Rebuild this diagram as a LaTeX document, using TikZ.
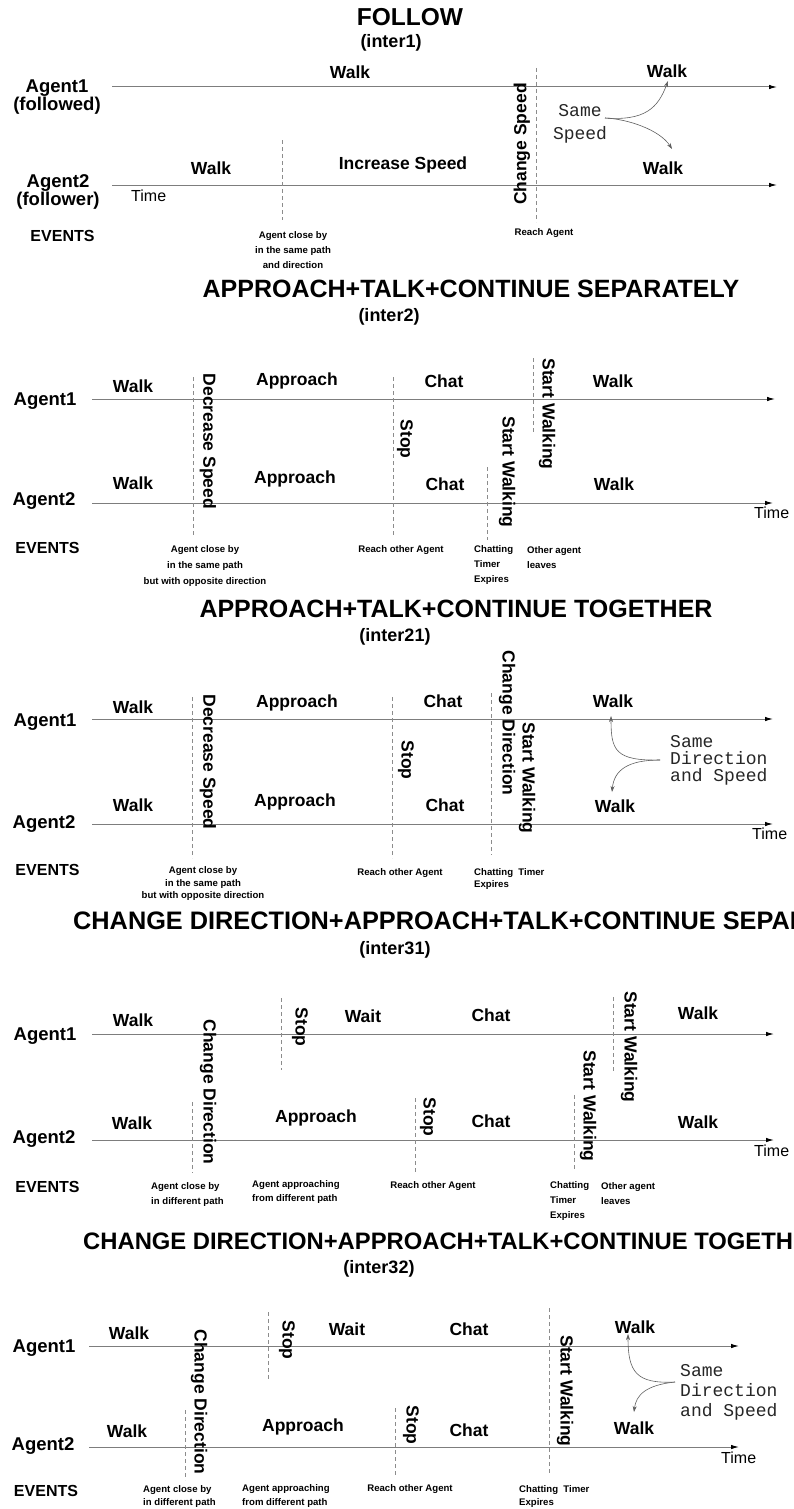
\documentclass[tikz,border=0pt]{standalone}
\usepackage{fontspec}
\setmainfont{Liberation Sans}
\newfontfamily\notefont{Liberation Mono}
\usetikzlibrary{positioning, arrows.meta}

\definecolor{axisc}{RGB}{125, 125, 125}
\definecolor{markc}{RGB}{140, 140, 140}
\definecolor{curvec}{RGB}{95, 95, 95}

\begin{document}
\begin{tikzpicture}[
    x=1pt, y=-1pt,
    lbl/.style={font=\fontsize{17.5}{20}\selectfont\bfseries, inner sep=0pt},
    vlbl/.style={lbl, rotate=-90},
    ttl/.style={font=\fontsize{25}{28}\selectfont\bfseries, inner sep=0pt},
    subttl/.style={font=\fontsize{18}{20}\selectfont\bfseries, inner sep=0pt},
    agent/.style={font=\fontsize{18.5}{18}\selectfont\bfseries, align=center, inner sep=0pt},
    evhdr/.style={font=\fontsize{16}{18}\selectfont\bfseries, inner sep=0pt},
    evt/.style={font=\fontsize{9.6}{15}\selectfont\bfseries, inner sep=0pt},
    timelbl/.style={font=\fontsize{16}{18}\selectfont, inner sep=0pt, anchor=west},
    note/.style={font=\notefont\fontsize{18}{17}\selectfont, text=black!85, inner sep=0pt},
    tline/.style={draw=axisc, line width=1pt, -{Latex[length=8pt, width=4.5pt, color=black]}},
    evmark/.style={draw=markc, line width=0.6pt, dash pattern=on 4pt off 3pt},
    curvarrow/.style={draw=curvec, line width=0.6pt, -{Stealth[length=6pt, width=4pt]}}
]
\useasboundingbox (0,0) rectangle (793,1509);

% ---------------- FOLLOW
\node[ttl, font=\fontsize{24.5}{28}\selectfont\bfseries] (t1) at (410,17) {FOLLOW};
\node[subttl] (s1) at (391,43) {(inter1)};
\node[agent] (a11) at (57,97) {Agent1\\(followed)};
\node[agent] (a12) at (58,192) {Agent2\\(follower)};

\coordinate (p11a) at (112,87);  \coordinate (p11b) at (777,87);
\coordinate (p12a) at (112,185); \coordinate (p12b) at (777,185);
\draw[tline] (p11a) -- (p11b);
\draw[tline] (p12a) -- (p12b);

\coordinate (d11) at (282,140); \draw[evmark] (d11) -- ++(0,80);
\coordinate (d12) at (536,68);  \draw[evmark] (d12) -- ++(0,154);

\node[lbl] (w111) at (350,72.5) {Walk};
\node[lbl] (w112) at (667,71) {Walk};
\node[lbl] (w121) at (211,168) {Walk};
\node[lbl] (inc1) at (403,165) {Increase Speed};
\node[lbl] (w122) at (663,168) {Walk};
\node[lbl, rotate=90] (chg1) at (522,144) {Change Speed};
\node[timelbl] (time1) at (131,196) {Time};

\node[note, align=center, font=\notefont\fontsize{18}{23.5}\selectfont] (n1) at (580,124) {Same\\Speed};
\coordinate (j1) at (605,118);
\coordinate (up1) at (668,81);
\coordinate (dn1) at (672,149);
\draw[curvarrow] (j1) .. controls (645,121) and (658,108) .. (up1);
\draw[curvarrow] (j1) .. controls (628,119) and (660,130) .. (dn1);

\node[evhdr] (ev1) at (62.5,236) {EVENTS};
\node[evt, align=center] (e11) at (293,250) {Agent close by\\in the same path\\and direction};
\node[evt] (e12) at (544,233) {Reach Agent};

% ---------------- APPROACH+TALK+CONTINUE SEPARATELY
\node[ttl] (t2) at (471,289) {APPROACH+TALK+CONTINUE SEPARATELY};
\node[subttl] (s2) at (389,317) {(inter2)};
\node[agent] (a21) at (45,401) {Agent1};
\node[agent] (a22) at (44,501) {Agent2};

\coordinate (p21a) at (92,399); \coordinate (p21b) at (775,399);
\coordinate (p22a) at (92,503); \coordinate (p22b) at (773,503);
\draw[tline] (p21a) -- (p21b);
\draw[tline] (p22a) -- (p22b);

\coordinate (d21) at (193,377); \draw[evmark] (d21) -- ++(0,160);
\coordinate (d22) at (393,377); \draw[evmark] (d22) -- ++(0,160);
\coordinate (d23) at (533,358); \draw[evmark] (d23) -- ++(0,74);
\coordinate (d24) at (487,467); \draw[evmark] (d24) -- ++(0,73);

\node[lbl] (w211) at (133,386) {Walk};
\node[lbl] (ap21) at (297,381) {Approach};
\node[lbl] (ch21) at (444,381) {Chat};
\node[lbl] (w212) at (613,381) {Walk};
\node[lbl] (w221) at (133,483) {Walk};
\node[lbl] (ap22) at (295,479) {Approach};
\node[lbl] (ch22) at (445,484) {Chat};
\node[lbl] (w222) at (614,484) {Walk};
\node[vlbl] (dec2) at (208,441.5) {Decrease Speed};
\node[vlbl] (stp2) at (405,439) {Stop};
\node[vlbl] (sw21) at (547,414) {Start Walking};
\node[vlbl] (sw22) at (507,472) {Start Walking};
\node[timelbl] (time2) at (754,513) {Time};

\node[evhdr] (ev2) at (47.5,548) {EVENTS};
\node[evt, align=center, font=\fontsize{9.6}{16}\selectfont\bfseries] (e21) at (205,566) {Agent close by\\in the same path\\but with opposite direction};
\node[evt] (e22) at (401,550) {Reach other Agent};
\node[evt, align=left, anchor=west] (e23) at (474,565.5) {Chatting\\Timer\\Expires};
\node[evt, align=left, anchor=west] (e24) at (527,557.5) {Other agent\\leaves};

% ---------------- APPROACH+TALK+CONTINUE TOGETHER
\node[ttl] (t3) at (456,609) {APPROACH+TALK+CONTINUE TOGETHER};
\node[subttl] (s3) at (395,637) {(inter21)};
\node[agent] (a31) at (45,722) {Agent1};
\node[agent] (a32) at (44,824) {Agent2};

\coordinate (p31a) at (92,719); \coordinate (p31b) at (773,719);
\coordinate (p32a) at (92,824); \coordinate (p32b) at (773,824);
\draw[tline] (p31a) -- (p31b);
\draw[tline] (p32a) -- (p32b);

\coordinate (d31) at (192,697); \draw[evmark] (d31) -- ++(0,161);
\coordinate (d32) at (392.5,697); \draw[evmark] (d32) -- ++(0,161);
\coordinate (d33) at (491,693); \draw[evmark] (d33) -- ++(0,162);

\node[lbl] (w311) at (133,707) {Walk};
\node[lbl] (ap31) at (297,703) {Approach};
\node[lbl] (ch31) at (443,701) {Chat};
\node[lbl] (w312) at (613,701) {Walk};
\node[lbl] (w321) at (133,805) {Walk};
\node[lbl] (ap32) at (295,802) {Approach};
\node[lbl] (ch32) at (445,805) {Chat};
\node[lbl] (w322) at (615,806) {Walk};
\node[vlbl] (dec3) at (208,762) {Decrease Speed};
\node[vlbl] (stp3) at (406,760) {Stop};
\node[vlbl] (cd3) at (507,723) {Change Direction};
\node[vlbl] (sw3) at (527,778) {Start Walking};
\node[timelbl] (time3) at (752,834) {Time};

\node[note, align=left, anchor=west] (n3) at (670,760) {Same\\Direction\\and Speed};
\coordinate (j3) at (660,760);
\coordinate (up3) at (611,716);
\coordinate (dn3) at (612,792);
\draw[curvarrow] (j3) .. controls (615,761) and (611,750) .. (up3);
\draw[curvarrow] (j3) .. controls (628,760) and (614,770) .. (dn3);

\node[evhdr] (ev3) at (47.5,870) {EVENTS};
\node[evt, align=center, font=\fontsize{9.6}{12.5}\selectfont\bfseries] (e31) at (203,884) {Agent close by\\in the same path\\but with opposite direction};
\node[evt] (e32) at (400,873) {Reach other Agent};
\node[evt, align=left, anchor=west, font=\fontsize{9.6}{12}\selectfont\bfseries] (e33) at (474,879) {Chatting~~Timer\\Expires};

% ---------------- CHANGE DIRECTION+APPROACH+TALK+CONTINUE SEPARATELY
\node[ttl, anchor=west, font=\fontsize{25.3}{28}\selectfont\bfseries] (t4) at (73,921) {CHANGE DIRECTION+APPROACH+TALK+CONTINUE SEPARATELY};
\node[subttl] (s4) at (395,950) {(inter31)};
\node[agent] (a41) at (45,1036) {Agent1};
\node[agent] (a42) at (44,1139) {Agent2};

\coordinate (p41a) at (92,1034); \coordinate (p41b) at (774,1034);
\coordinate (p42a) at (92,1140); \coordinate (p42b) at (774,1140);
\draw[tline] (p41a) -- (p41b);
\draw[tline] (p42a) -- (p42b);

\coordinate (d41) at (192,1102);   \draw[evmark] (d41) -- ++(0,71);
\coordinate (d42) at (281,998);    \draw[evmark] (d42) -- ++(0,72);
\coordinate (d43) at (613.5,997);  \draw[evmark] (d43) -- ++(0,75);
\coordinate (d44) at (415,1098);   \draw[evmark] (d44) -- ++(0,74);
\coordinate (d45) at (574,1095);   \draw[evmark] (d45) -- ++(0,75);

\node[lbl] (w411) at (133,1020) {Walk};
\node[lbl] (wt41) at (363,1016) {Wait};
\node[lbl] (ch41) at (491,1015) {Chat};
\node[lbl] (w412) at (698,1013) {Walk};
\node[lbl] (w421) at (132,1123) {Walk};
\node[lbl] (ap42) at (316,1118) {Approach};
\node[lbl] (ch42) at (491,1121) {Chat};
\node[lbl] (w422) at (698,1122) {Walk};
\node[vlbl] (cd4) at (208,1092) {Change Direction};
\node[vlbl] (stp41) at (300,1027) {Stop};
\node[vlbl] (sw41) at (629,1047) {Start Walking};
\node[vlbl] (stp42) at (428,1117) {Stop};
\node[vlbl] (sw42) at (588,1106) {Start Walking};
\node[timelbl] (time4) at (754,1151) {Time};

\node[evhdr] (ev4) at (47.5,1187) {EVENTS};
\node[evt, align=left, anchor=west] (e41) at (151,1194.5) {Agent close by\\in different path};
\node[evt, align=left, anchor=west, font=\fontsize{9.6}{14}\selectfont\bfseries] (e42) at (252,1192) {Agent approaching\\from different path};
\node[evt] (e43) at (433,1186) {Reach other Agent};
\node[evt, align=left, anchor=west] (e44) at (550,1201) {Chatting\\Timer\\Expires};
\node[evt, align=left, anchor=west] (e45) at (601,1193.5) {Other agent\\leaves};

% ---------------- CHANGE DIRECTION+APPROACH+TALK+CONTINUE TOGETHER
\node[ttl, anchor=west, font=\fontsize{23.8}{28}\selectfont\bfseries] (t5) at (83,1241) {CHANGE DIRECTION+APPROACH+TALK+CONTINUE TOGETHER};
\node[subttl] (s5) at (379,1269) {(inter32)};
\node[agent] (a51) at (44,1348) {Agent1};
\node[agent] (a52) at (43,1446) {Agent2};

\coordinate (p51a) at (89,1346); \coordinate (p51b) at (739,1346);
\coordinate (p52a) at (89,1447); \coordinate (p52b) at (739,1447);
\draw[tline] (p51a) -- (p51b);
\draw[tline] (p52a) -- (p52b);

\coordinate (d51) at (185,1410);   \draw[evmark] (d51) -- ++(0,70);
\coordinate (d52) at (268,1312);   \draw[evmark] (d52) -- ++(0,68);
\coordinate (d53) at (549,1308);   \draw[evmark] (d53) -- ++(0,165);
\coordinate (d54) at (395.5,1408); \draw[evmark] (d54) -- ++(0,69);

\node[lbl] (w511) at (129,1333) {Walk};
\node[lbl] (wt51) at (347,1329) {Wait};
\node[lbl] (ch51) at (469,1329) {Chat};
\node[lbl] (w512) at (635,1327) {Walk};
\node[lbl] (w521) at (127,1431) {Walk};
\node[lbl] (ap52) at (303,1427) {Approach};
\node[lbl] (ch52) at (469,1430) {Chat};
\node[lbl] (w522) at (634,1428) {Walk};
\node[vlbl] (cd5) at (199,1402) {Change Direction};
\node[vlbl] (stp51) at (287,1340) {Stop};
\node[vlbl] (sw5) at (565,1391) {Start Walking};
\node[vlbl] (stp52) at (411,1425) {Stop};
\node[timelbl] (time5) at (721,1458) {Time};

\node[note, align=left, anchor=west, font=\notefont\fontsize{18}{20}\selectfont] (n5) at (680,1392) {Same\\Direction\\and Speed};
\coordinate (j5) at (675,1382);
\coordinate (up5) at (628,1334);
\coordinate (dn5) at (634,1412);
\draw[curvarrow] (j5) .. controls (636,1384) and (628,1372) .. (up5);
\draw[curvarrow] (j5) .. controls (646,1385) and (636,1395) .. (dn5);

\node[evhdr] (ev5) at (46,1491) {EVENTS};
\node[evt, align=left, anchor=west, font=\fontsize{9.6}{13}\selectfont\bfseries] (e51) at (143,1496.5) {Agent close by\\in different path};
\node[evt, align=left, anchor=west, font=\fontsize{9.6}{14}\selectfont\bfseries] (e52) at (242,1496) {Agent approaching\\from different path};
\node[evt] (e53) at (410,1489) {Reach other Agent};
\node[evt, align=left, anchor=west, font=\fontsize{9.6}{13}\selectfont\bfseries] (e54) at (519,1496.5) {Chatting~~Timer\\Expires};

\end{tikzpicture}
\end{document}
